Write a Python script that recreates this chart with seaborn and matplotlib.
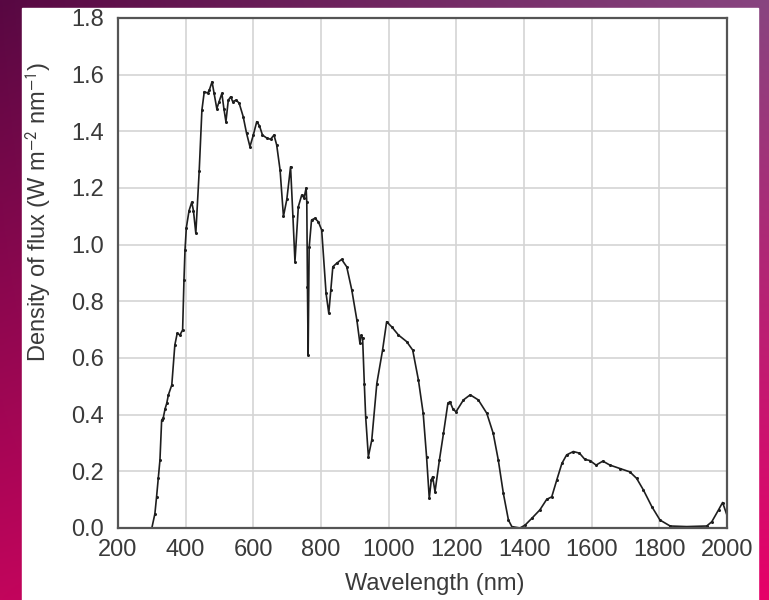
import numpy as np
import pandas as pd
import matplotlib
matplotlib.use('Agg')
import matplotlib.pyplot as plt
import seaborn as sns

# spectrum (nm, W m-2 nm-1)
wavelength = [300, 309, 314, 319, 324, 329, 334, 339, 344, 349, 359, 368, 375, 383, 391, 395, 398, 402,
              410, 418, 423, 430, 440, 448, 455, 465, 470, 478, 484, 492, 499, 507, 513, 519, 526, 533,
              539, 549, 558, 570, 580, 590, 600, 610, 618, 627, 640, 651, 661, 669, 679, 689, 699, 710,
              717, 723, 733, 743, 750, 756, 758, 760, 762, 765, 772, 782, 792, 802, 815, 823, 829, 835,
              846, 861, 876, 891, 906, 915, 919, 923, 928, 932, 940, 950, 965, 982, 994, 1009, 1029,
              1053, 1071, 1088, 1102, 1112, 1120, 1126, 1130, 1137, 1150, 1162, 1175, 1181, 1190, 1199,
              1221, 1241, 1265, 1290, 1309, 1324, 1339, 1354, 1364, 1388, 1403, 1423, 1447, 1467, 1482,
              1497, 1512, 1526, 1546, 1564, 1580, 1595, 1613, 1633, 1654, 1684, 1713, 1733, 1753, 1778,
              1802, 1832, 1881, 1940, 1955, 1975, 1987, 2000]
flux = [0.0, 0.05, 0.11, 0.175, 0.24, 0.38, 0.39, 0.42, 0.44, 0.47, 0.505, 0.646, 0.687, 0.681, 0.699,
        0.875, 0.98, 1.06, 1.12, 1.15, 1.12, 1.04, 1.26, 1.475, 1.54, 1.535, 1.546, 1.575, 1.535, 1.48,
        1.505, 1.534, 1.48, 1.434, 1.51, 1.522, 1.505, 1.51, 1.50, 1.452, 1.393, 1.346, 1.387, 1.434,
        1.42, 1.387, 1.376, 1.372, 1.387, 1.352, 1.264, 1.10, 1.16, 1.275, 1.10, 0.94, 1.134, 1.175,
        1.165, 1.20, 1.15, 0.85, 0.61, 0.99, 1.087, 1.093, 1.081, 1.052, 0.828, 0.758, 0.84, 0.922,
        0.934, 0.948, 0.922, 0.84, 0.734, 0.652, 0.68, 0.67, 0.51, 0.393, 0.252, 0.31, 0.51, 0.628,
        0.728, 0.71, 0.681, 0.658, 0.628, 0.522, 0.405, 0.252, 0.105, 0.17, 0.181, 0.128, 0.24, 0.334,
        0.44, 0.446, 0.42, 0.41, 0.452, 0.47, 0.452, 0.405, 0.334, 0.24, 0.122, 0.028, 0.005, 0.0,
        0.01, 0.034, 0.064, 0.101, 0.11, 0.17, 0.228, 0.258, 0.27, 0.264, 0.242, 0.238, 0.222, 0.236,
        0.222, 0.21, 0.198, 0.175, 0.134, 0.075, 0.028, 0.007, 0.005, 0.007, 0.022, 0.064, 0.09, 0.045]

x_ticks = [200, 400, 600, 800, 1000, 1200, 1400, 1600, 1800, 2000]
y_ticks = [0.0, 0.2, 0.4, 0.6, 0.8, 1.0, 1.2, 1.4, 1.6, 1.8]

df = pd.DataFrame({'wavelength': wavelength, 'flux': flux})

sns.set_style('white')
plt.rcParams['font.family'] = ['Liberation Sans', 'DejaVu Sans']
plt.rcParams['mathtext.fontset'] = 'stixsans'

fig = plt.figure(figsize=(7.69, 6.0), dpi=100)

# purple/pink gradient background
bg = fig.add_axes([0, 0, 1, 1], zorder=-10)
tl = np.array([0x58, 0x08, 0x42]) / 255
tr = np.array([0x88, 0x45, 0x80]) / 255
bl = np.array([0xc2, 0x05, 0x5c]) / 255
br = np.array([0xe6, 0x00, 0x68]) / 255
u = np.linspace(0, 1, 200)[None, :, None]
v = np.linspace(0, 1, 200)[:, None, None]
img = (1 - v) * ((1 - u) * tl + u * tr) + v * ((1 - u) * bl + u * br)
bg.imshow(img, aspect='auto', extent=[0, 1, 0, 1], origin='upper')
bg.add_patch(plt.Rectangle((22 / 769, 0), (758 - 22) / 769, 1 - 8 / 600, color='white'))
bg.set_xlim(0, 1)
bg.set_ylim(0, 1)
bg.axis('off')

ax = fig.add_axes([118 / 769, 72 / 600, 609 / 769, 510 / 600])
sns.lineplot(data=df, x='wavelength', y='flux', ax=ax, color='#1e1e1e', linewidth=1.2,
             marker='o', markersize=2.2, markeredgewidth=0)

ax.set_xlim(200, 2000)
ax.set_ylim(0, 1.8)
ax.set_xticks(x_ticks)
ax.set_yticks(y_ticks)
ax.set_yticklabels([f'{t:.1f}' for t in y_ticks])
ax.grid(True, color='#d4d4d4', linewidth=1.2)
ax.set_axisbelow(True)
for s in ax.spines.values():
    s.set_color('#555555')
    s.set_linewidth(1.6)
ax.tick_params(axis='both', direction='in', length=5, width=1.2, color='#555555',
               labelsize=17, labelcolor='#3a3a3a')
ax.tick_params(axis='x', pad=8)
ax.tick_params(axis='y', pad=10)

ax.set_xlabel('Wavelength (nm)', fontsize=17, color='#3a3a3a')
ax.set_ylabel('Density of flux (W m$^{-2}$ nm$^{-1}$)', fontsize=17, color='#3a3a3a')
ax.xaxis.set_label_coords(0.52, -0.088)
ax.yaxis.set_label_coords(-0.106, 0.62)

fig.savefig('out.png', dpi=100)
